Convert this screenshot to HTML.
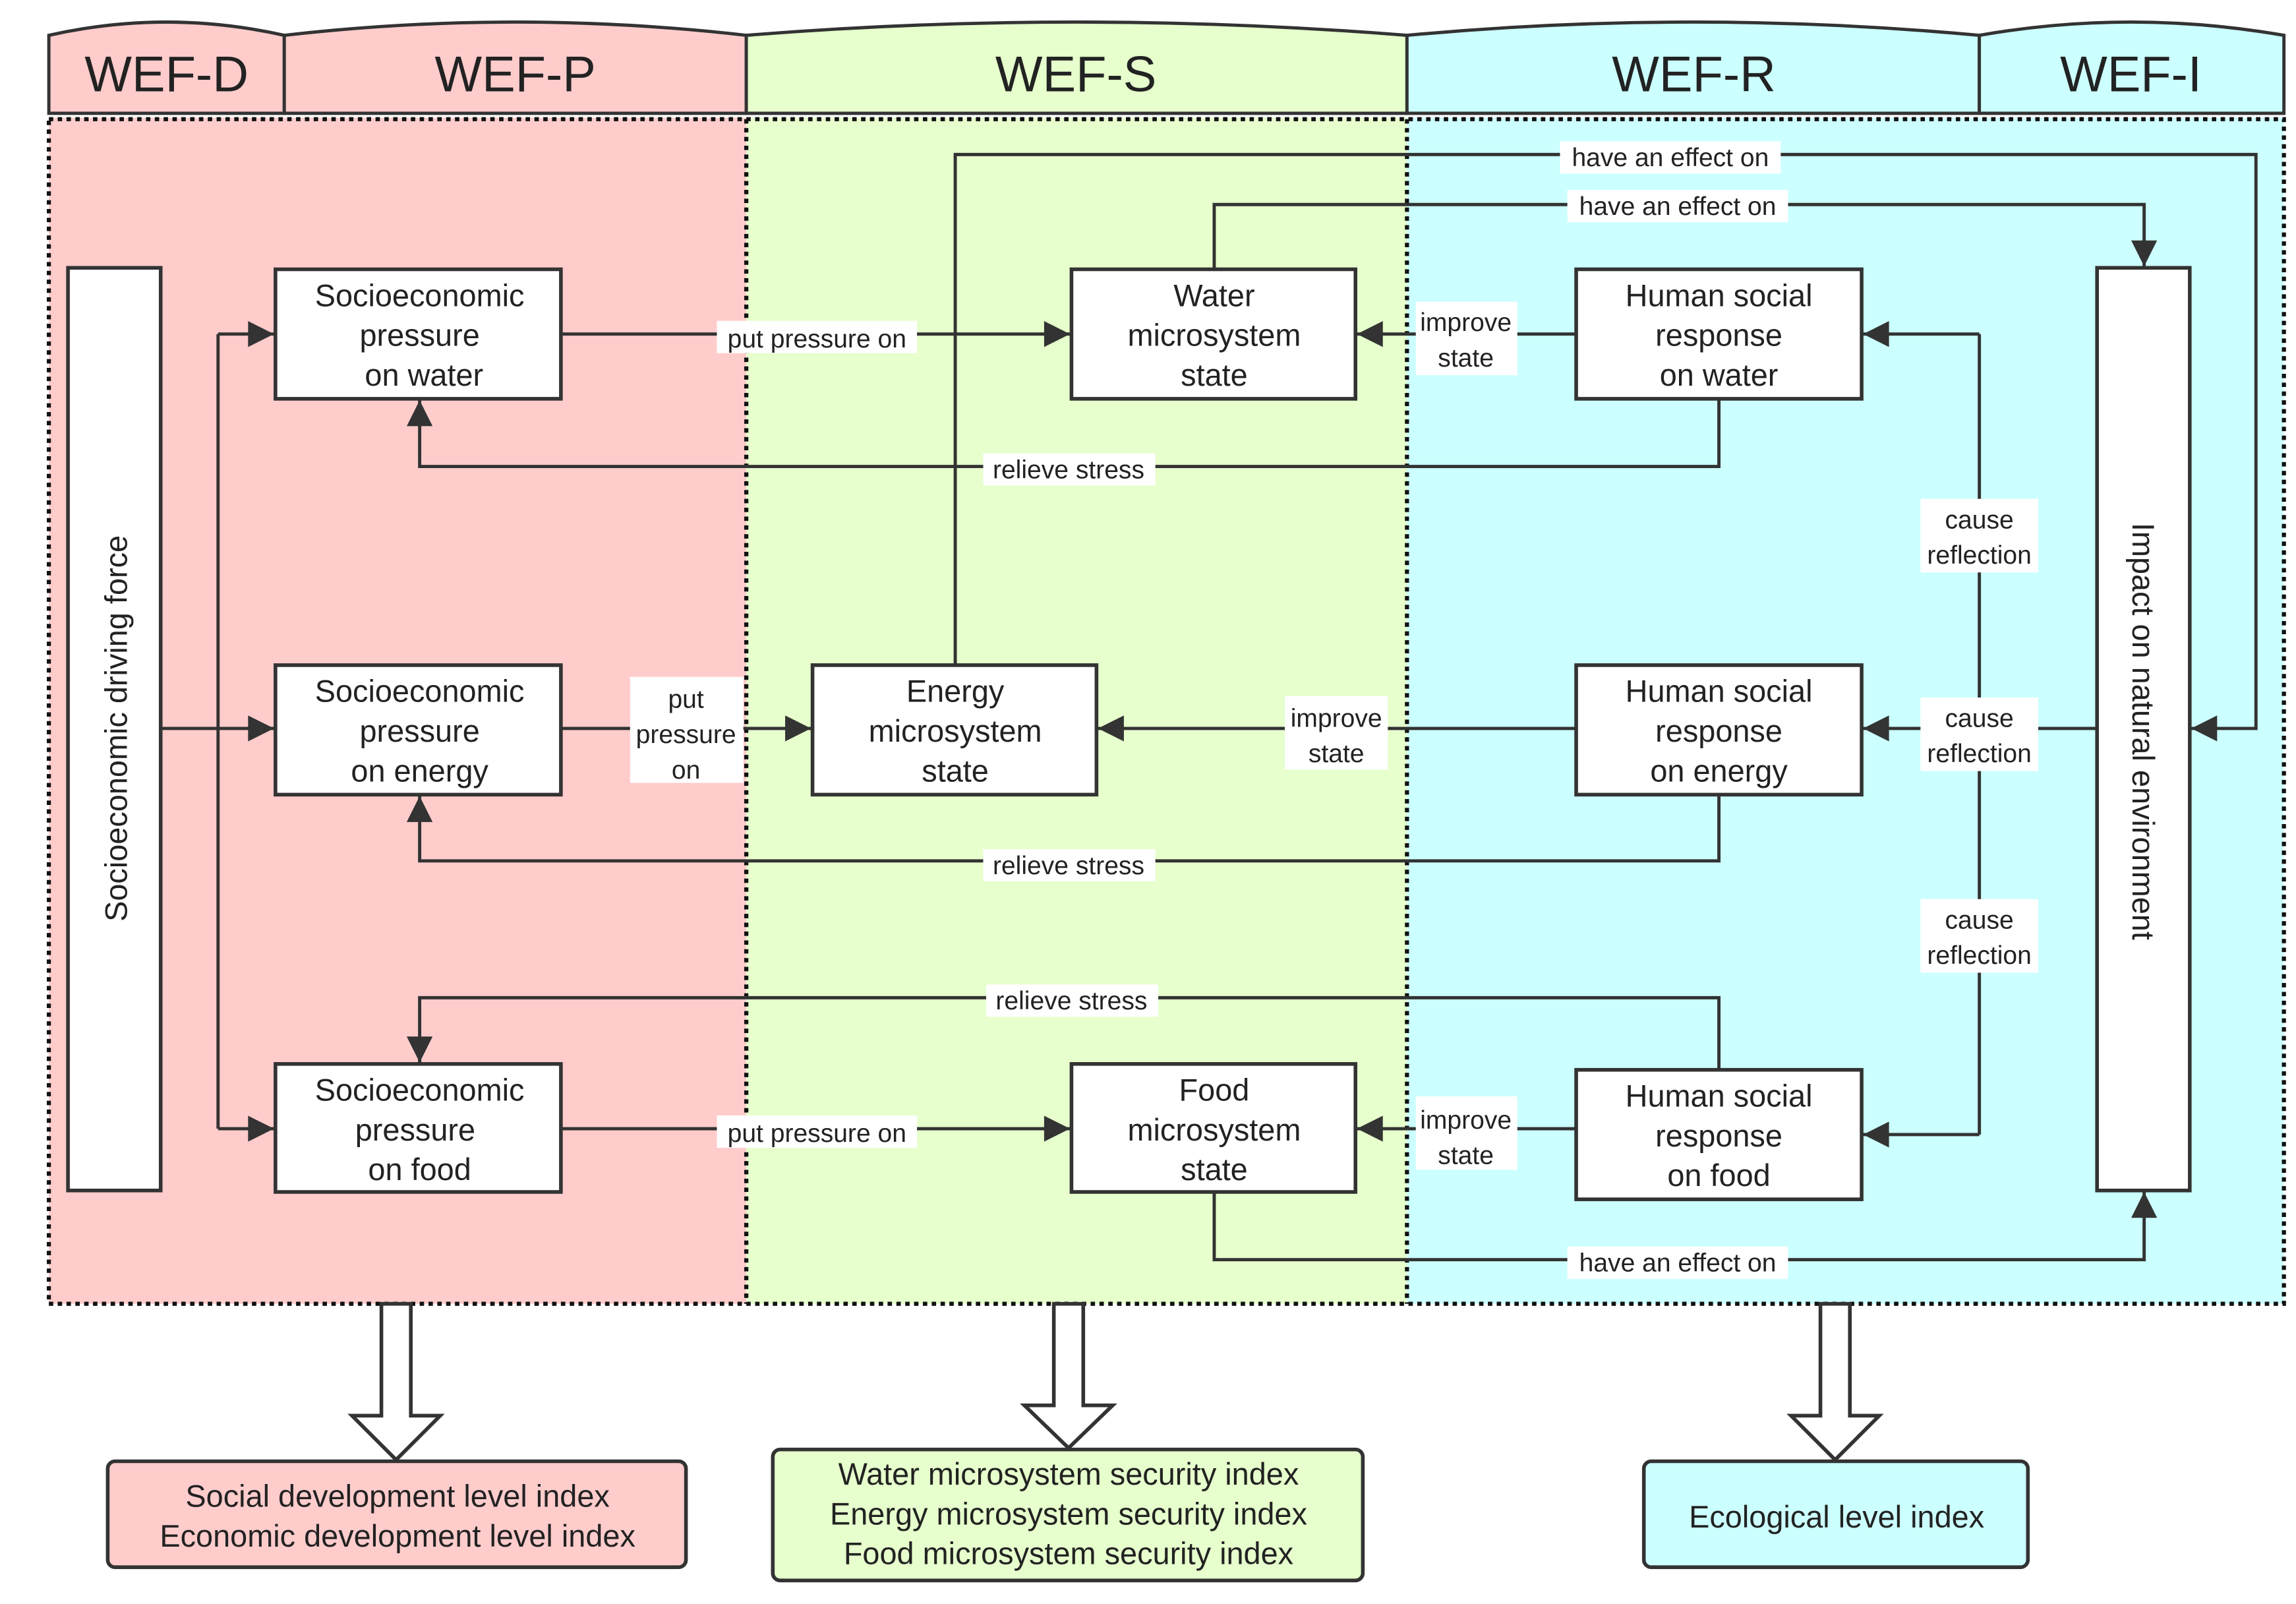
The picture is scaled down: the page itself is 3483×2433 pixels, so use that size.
<!DOCTYPE html>
<html><head><meta charset="utf-8"><style>
html,body{margin:0;padding:0;background:#fff;}
svg{display:block}
text{font-family:"Liberation Sans",Arial,sans-serif;fill:#222;}
</style></head><body>
<svg width="3483" height="2433" viewBox="0 0 1560 1090" xmlns="http://www.w3.org/2000/svg">
<defs>
<marker id="a" viewBox="0 0 10 10" refX="10" refY="5" markerWidth="9" markerHeight="8" orient="auto" markerUnits="strokeWidth">
<path d="M0,0 L10,5 L0,10 z" fill="#333"/></marker>
</defs>
<rect x="33" y="80" width="474" height="806" fill="#ffcccc"/>
<rect x="507" y="80" width="449" height="806" fill="#e6ffcc"/>
<rect x="956" y="80" width="596" height="806" fill="#ccffff"/>
<g stroke="#333" stroke-width="2.2">
<path d="M33,77 L33,24 Q113,6 193,24 L193,77 Z" fill="#ffcccc"/>
<path d="M193,77 L193,24 Q350,6 507,24 L507,77 Z" fill="#ffcccc"/>
<path d="M507,77 L507,24 Q731,6 956,24 L956,77 Z" fill="#e6ffcc"/>
<path d="M956,77 L956,24 Q1150,6 1345,24 L1345,77 Z" fill="#ccffff"/>
<path d="M1345,77 L1345,24 Q1448,6 1552,24 L1552,77 Z" fill="#ccffff"/>
</g>
<g font-size="34" text-anchor="middle">
<text x="113" y="62">WEF-D</text>
<text x="350" y="62">WEF-P</text>
<text x="731" y="62">WEF-S</text>
<text x="1151" y="62">WEF-R</text>
<text x="1448" y="62">WEF-I</text>
</g>
<g fill="none" stroke="#111" stroke-width="2.8" stroke-dasharray="3,3">
<rect x="33" y="81" width="1519" height="805"/>
<line x1="507" y1="81" x2="507" y2="886"/>
<line x1="956" y1="81" x2="956" y2="886"/>
</g>
<g fill="none" stroke="#333" stroke-width="2.2">
<line x1="109" y1="495" x2="148" y2="495"/>
<line x1="148" y1="227" x2="148" y2="767"/>
<line x1="148" y1="227" x2="186" y2="227" marker-end="url(#a)"/>
<line x1="148" y1="495" x2="186" y2="495" marker-end="url(#a)"/>
<line x1="148" y1="767" x2="186" y2="767" marker-end="url(#a)"/>
<line x1="381" y1="227" x2="727" y2="227" marker-end="url(#a)"/>
<line x1="381" y1="495" x2="551" y2="495" marker-end="url(#a)"/>
<line x1="381" y1="767" x2="727" y2="767" marker-end="url(#a)"/>
<line x1="1071" y1="227" x2="922" y2="227" marker-end="url(#a)"/>
<line x1="1071" y1="495" x2="746" y2="495" marker-end="url(#a)"/>
<line x1="1071" y1="767" x2="922" y2="767" marker-end="url(#a)"/>
<path d="M1168,271 L1168,317 L285,317 L285,272" marker-end="url(#a)"/>
<path d="M1168,540 L1168,585 L285,585 L285,541" marker-end="url(#a)"/>
<path d="M1168,727 L1168,678 L285,678 L285,722" marker-end="url(#a)"/>
<line x1="1425" y1="495" x2="1345" y2="495"/>
<line x1="1345" y1="227" x2="1345" y2="771"/>
<line x1="1345" y1="227" x2="1266" y2="227" marker-end="url(#a)"/>
<line x1="1345" y1="495" x2="1266" y2="495" marker-end="url(#a)"/>
<line x1="1345" y1="771" x2="1266" y2="771" marker-end="url(#a)"/>
<path d="M649,452 L649,105 L1533,105 L1533,495 L1489,495" marker-end="url(#a)"/>
<path d="M825,183 L825,139 L1457,139 L1457,181" marker-end="url(#a)"/>
<path d="M825,810 L825,856 L1457,856 L1457,810" marker-end="url(#a)"/>
</g>
<g fill="#fff" stroke="#333" stroke-width="2.5">
<rect x="46" y="182" width="63" height="627"/>
<rect x="1425" y="182" width="63" height="627"/>
<rect x="187" y="183" width="194" height="88"/>
<rect x="187" y="452" width="194" height="88"/>
<rect x="187" y="723" width="194" height="87"/>
<rect x="728" y="183" width="193" height="88"/>
<rect x="552" y="452" width="193" height="88"/>
<rect x="728" y="723" width="193" height="87"/>
<rect x="1071" y="183" width="194" height="88"/>
<rect x="1071" y="452" width="194" height="88"/>
<rect x="1071" y="727" width="194" height="88"/>
</g>
<g font-size="21" text-anchor="middle">
<text x="285" y="208">Socioeconomic</text><text x="285" y="235">pressure</text><text x="288" y="262">on water</text>
<text x="285" y="477">Socioeconomic</text><text x="285" y="504">pressure</text><text x="285" y="531">on energy</text>
<text x="285" y="748">Socioeconomic</text><text x="282" y="775">pressure</text><text x="285" y="802">on food</text>
<text x="825" y="208">Water</text><text x="825" y="235">microsystem</text><text x="825" y="262">state</text>
<text x="649" y="477">Energy</text><text x="649" y="504">microsystem</text><text x="649" y="531">state</text>
<text x="825" y="748">Food</text><text x="825" y="775">microsystem</text><text x="825" y="802">state</text>
<text x="1168" y="208">Human social</text><text x="1168" y="235">response</text><text x="1168" y="262">on water</text>
<text x="1168" y="477">Human social</text><text x="1168" y="504">response</text><text x="1168" y="531">on energy</text>
<text x="1168" y="752">Human social</text><text x="1168" y="779">response</text><text x="1168" y="806">on food</text>
<text transform="translate(86,495) rotate(-90)">Socioeconomic driving force</text>
<text transform="translate(1449,497) rotate(90)">Impact on natural environment</text>
</g>
<g fill="#fff">
<rect x="487" y="218" width="136" height="22"/>
<rect x="487" y="758" width="136" height="22"/>
<rect x="428" y="460" width="77" height="72"/>
<rect x="962" y="205" width="69" height="50"/>
<rect x="962" y="745" width="69" height="50"/>
<rect x="873" y="473" width="70" height="50"/>
<rect x="668" y="308" width="117" height="22"/>
<rect x="668" y="577" width="117" height="22"/>
<rect x="670" y="669" width="117" height="22"/>
<rect x="1305" y="339" width="80" height="50"/>
<rect x="1305" y="474" width="80" height="50"/>
<rect x="1305" y="611" width="80" height="50"/>
<rect x="1060" y="96" width="150" height="22"/>
<rect x="1065" y="129" width="150" height="22"/>
<rect x="1065" y="847" width="150" height="22"/>
</g>
<g font-size="17.5" text-anchor="middle">
<text x="555" y="236">put pressure on</text>
<text x="555" y="776">put pressure on</text>
<text x="466" y="481">put</text><text x="466" y="505">pressure</text><text x="466" y="529">on</text>
<text x="996" y="225">improve</text><text x="996" y="249">state</text>
<text x="996" y="767">improve</text><text x="996" y="791">state</text>
<text x="908" y="494">improve</text><text x="908" y="518">state</text>
<text x="726" y="325">relieve stress</text>
<text x="726" y="594">relieve stress</text>
<text x="728" y="686">relieve stress</text>
<text x="1345" y="359">cause</text><text x="1345" y="383">reflection</text>
<text x="1345" y="494">cause</text><text x="1345" y="518">reflection</text>
<text x="1345" y="631">cause</text><text x="1345" y="655">reflection</text>
<text x="1135" y="113">have an effect on</text>
<text x="1140" y="146">have an effect on</text>
<text x="1140" y="864">have an effect on</text>
</g>
<g fill="#fff" stroke="#333" stroke-width="2.5" stroke-linejoin="miter">
<path d="M259,886 L279,886 L279,962 L299,962 L269,992 L239,962 L259,962 Z"/>
<path d="M716,886 L736,886 L736,955 L756,955 L726,984 L696,955 L716,955 Z"/>
<path d="M1237,886 L1257,886 L1257,962 L1277,962 L1247,992 L1217,962 L1237,962 Z"/>
</g>
<g stroke="#333" stroke-width="2.5">
<rect x="73" y="993" width="393" height="72" rx="5" fill="#ffcccc"/>
<rect x="525" y="985" width="401" height="89" rx="5" fill="#e6ffcc"/>
<rect x="1117" y="993" width="261" height="72" rx="5" fill="#ccffff"/>
</g>
<g font-size="21" text-anchor="middle">
<text x="270" y="1024">Social development level index</text>
<text x="270" y="1051">Economic development level index</text>
<text x="726" y="1009">Water microsystem security index</text>
<text x="726" y="1036">Energy microsystem security index</text>
<text x="726" y="1063">Food microsystem security index</text>
<text x="1248" y="1038">Ecological level index</text>
</g>
</svg>
</body></html>
